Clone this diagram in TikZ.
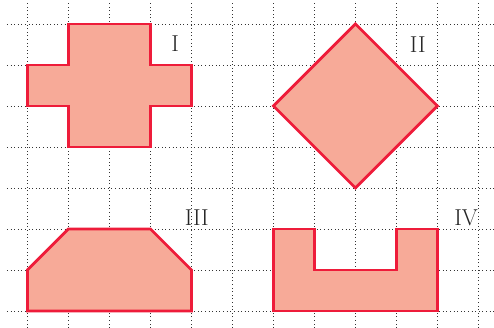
\documentclass[tikz,border=0pt]{standalone}
\definecolor{salmonfill}{HTML}{F7AA98}
\definecolor{figred}{HTML}{EE1C3A}
\begin{document}
\begin{tikzpicture}
		[	gridline/.style={draw=black!80,dotted,line width=.5pt},
		figure/.style={draw=figred,fill=salmonfill,line width=1.9pt,line join=miter},
		plain/.style={draw=none,fill=none,font=\fontsize{16}{18}\selectfont,text=black!85}
		]
		\useasboundingbox (-0.67,-0.415) rectangle (11.38,7.585);
		\foreach \x in {0,...,11}
			\draw[gridline] (\x,-0.415) -- (\x,7.52);
		\foreach \y in {0,...,7}
			\draw[gridline] (-0.5,\y) -- (11.38,\y);
		% figure I
		\draw[figure] (1,7) -- (3,7) -- (3,6) -- (4,6) -- (4,5) -- (3,5) -- (3,4) -- (1,4) -- (1,5) -- (0,5) -- (0,6) -- (1,6) -- cycle;
		% figure II
		\draw[figure] (8,7) -- (10,5) -- (8,3) -- (6,5) -- cycle;
		% figure III
		\draw[figure] (0,0) -- (4,0) -- (4,1) -- (3,2) -- (1,2) -- (0,1) -- cycle;
		% figure IV
		\draw[figure] (6,0) -- (10,0) -- (10,2) -- (9,2) -- (9,1) -- (7,1) -- (7,2) -- (6,2) -- cycle;
\node[plain] (one) at (3.6,6.52){I};
\node[plain] (two) at (9.52,6.5){II};
\node[plain] (three) at (4.13,2.28){III};
\node[plain] (four) at (10.7,2.28){IV};
	\end{tikzpicture}
\end{document}
